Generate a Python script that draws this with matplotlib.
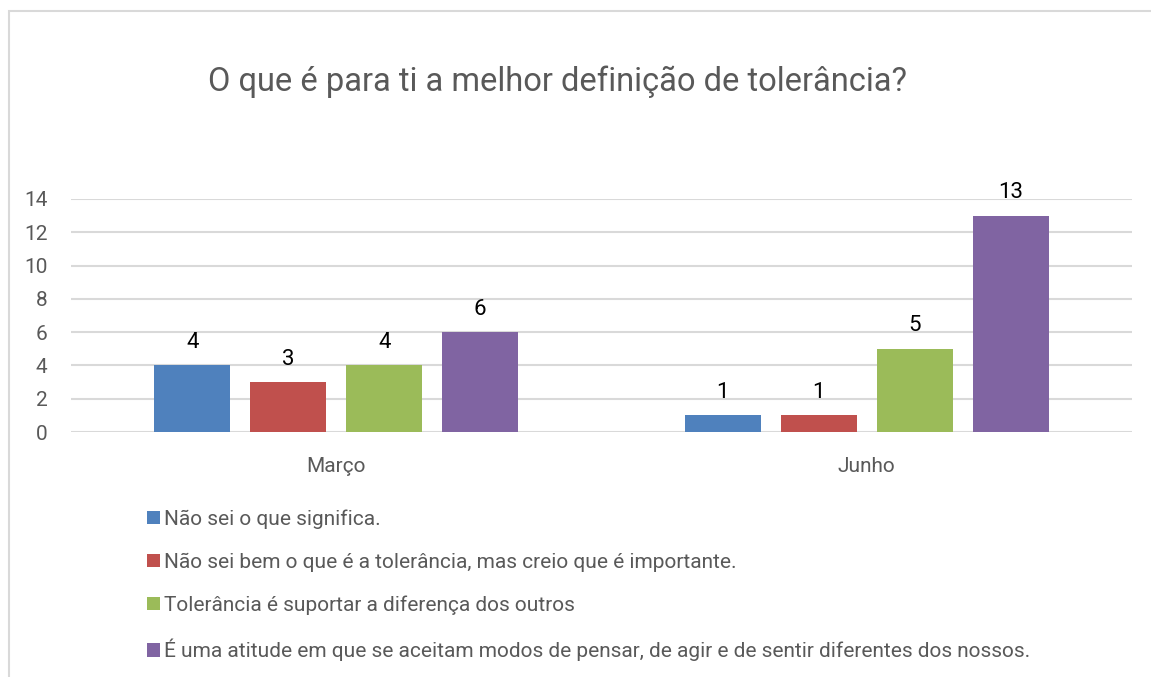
import matplotlib
matplotlib.use("Agg")
import matplotlib.pyplot as plt
from matplotlib import font_manager
from matplotlib.patches import Rectangle
import numpy as np

# data
categories = ["Março", "Junho"]
series_names = [
    "Não sei o que significa.",
    "Não sei bem o que é a tolerância, mas creio que é importante.",
    "Tolerância é suportar a diferença dos outros",
    "É uma atitude em que se aceitam modos de pensar, de agir e de sentir diferentes dos nossos.",
]
values = [
    [4, 1],
    [3, 1],
    [4, 5],
    [6, 13],
]
colors = ["#4F81BD", "#C0504D", "#9BBB59", "#8064A2"]
yticks = [0, 2, 4, 6, 8, 10, 12, 14]

# pick a narrow font if one is there
available = {f.name for f in font_manager.fontManager.ttflist}
for name in ["Liberation Sans Narrow", "DejaVu Sans Condensed", "Roboto", "DejaVu Sans"]:
    if name in available:
        font = name
        break
plt.rcParams["font.family"] = [font, "DejaVu Sans"]

W, H = 1151, 677
fig = plt.figure(figsize=(W / 100, H / 100), dpi=100)
fig.patch.set_facecolor("white")

# chart border (only top and left visible in the original crop)
fig.add_artist(Rectangle((9 / W, -0.2), 1.5, 1.2 - 11 / H, transform=fig.transFigure,
                         fill=False, edgecolor="#D9D9D9", linewidth=1.5))

ax = fig.add_axes([71 / W, 1 - 432 / H, (1132 - 71) / W, (432 - 199) / H])

x = np.arange(len(categories))
width = 0.143
step = 0.181
bars = []
for i, (vals, c) in enumerate(zip(values, colors)):
    b = ax.bar(x + (i - 1.5) * step, vals, width, color=c, label=series_names[i], zorder=3)
    ax.bar_label(b, padding=9, fontsize=16, color="black")
    bars.append(b)

ax.set_xlim(-0.5, 1.5)
ax.set_ylim(0, 14)
ax.set_yticks(yticks)
ax.set_xticks(x)
ax.set_xticklabels(categories)
ax.tick_params(axis="both", length=0, labelcolor="#595959", labelsize=15)
ax.tick_params(axis="x", pad=18)
ax.tick_params(axis="y", pad=17)
ax.yaxis.grid(True, color="#D9D9D9", linewidth=1.5, zorder=0)
for s in ax.spines.values():
    s.set_visible(False)

fig.text(557 / W, 1 - 82 / H, "O que é para ti a melhor definição de tolerância?",
         ha="center", va="center", fontsize=23.5, color="#595959")

fig.legend(handles=bars, labels=series_names, loc="upper left",
           bbox_to_anchor=(137 / W, 1 - 499 / H), frameon=False,
           fontsize=15, labelcolor="#595959", handlelength=0.6, handleheight=0.6,
           handletextpad=0.2, labelspacing=1.14, borderpad=0)

fig.savefig("out.png", dpi=100)
